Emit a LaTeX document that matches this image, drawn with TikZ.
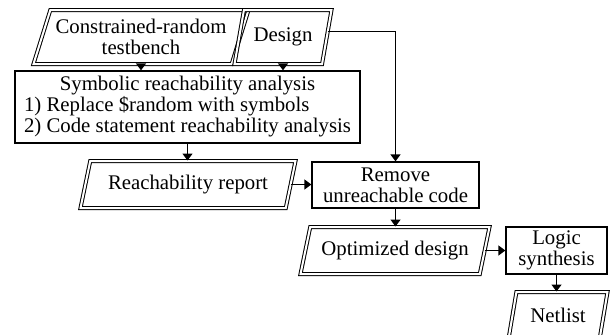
\documentclass[tikz,border=0pt]{standalone}
\usepackage{fontspec}
\setmainfont{Liberation Serif}
\usepackage{tikz}
\usetikzlibrary{shapes.geometric}
\usetikzlibrary{arrows.meta}
\usetikzlibrary{positioning}

\begin{document}
\begin{tikzpicture}[x=0.5pt,y=-0.5pt,font=\fontsize{10.4}{10.5}\selectfont]
          \useasboundingbox (0,0) rectangle (613,334);
          \begin{scope}[every node/.style={trapezium,trapezium left angle=67,trapezium right angle=113,
              trapezium stretches body,draw,double,double distance=1pt,line width=0.5pt,
              inner sep=1pt,align=center}]
            \node[minimum width=107.5pt,minimum height=27pt] (tb) at (141,37) {Constrained-random\\testbench};
            \node[minimum width=48.5pt,minimum height=27pt] (design) at (283,37) {Design};
            \node[minimum width=107.5pt,minimum height=23.5pt] (report) at (188,184.5) {Reachability report};
            \node[minimum width=94.5pt,minimum height=23.5pt] (opt) at (395,250.5) {Optimized design};
            \node[minimum width=49.5pt,minimum height=23.5pt] (netlist) at (558,315.5) {Netlist};
          \end{scope}
          \begin{scope}[every node/.style={rectangle,draw,line width=0.65pt,inner sep=1pt,align=center}]
            \node[minimum width=172.5pt,minimum height=36pt] (sym) at (187.5,107) {%
              \begin{tabular}{@{}l@{}}
                \multicolumn{1}{@{}c@{}}{Symbolic reachability analysis}\\
                1) Replace \$random with symbols\\
                2) Code statement reachability analysis
              \end{tabular}};
            \node[minimum width=83.5pt,minimum height=23pt] (remove) at (395.5,185) {Remove\\unreachable code};
            \node[minimum width=50.5pt,minimum height=23.5pt] (logic) at (556.5,250.5) {Logic\\synthesis};
          \end{scope}
          \begin{scope}[every edge/.style={draw=black,line width=0.65pt,-{Triangle[length=3.5pt,width=5pt]}}]
            \path (tb.south) edge (tb.south |- sym.north);
            \path (design.south) edge (design.south |- sym.north);
            \path (design.7) edge[to path={-| (\tikztotarget)}] (remove.north);
            \path (sym.south) edge (sym.south |- report.north);
            \path (report.east) edge (report.east -| remove.west);
            \path (remove.south) edge (remove.south |- opt.north);
            \path (opt.east) edge (opt.east -| logic.west);
            \path (logic.south) edge (logic.south |- netlist.north);
          \end{scope}
        \end{tikzpicture}
\end{document}
